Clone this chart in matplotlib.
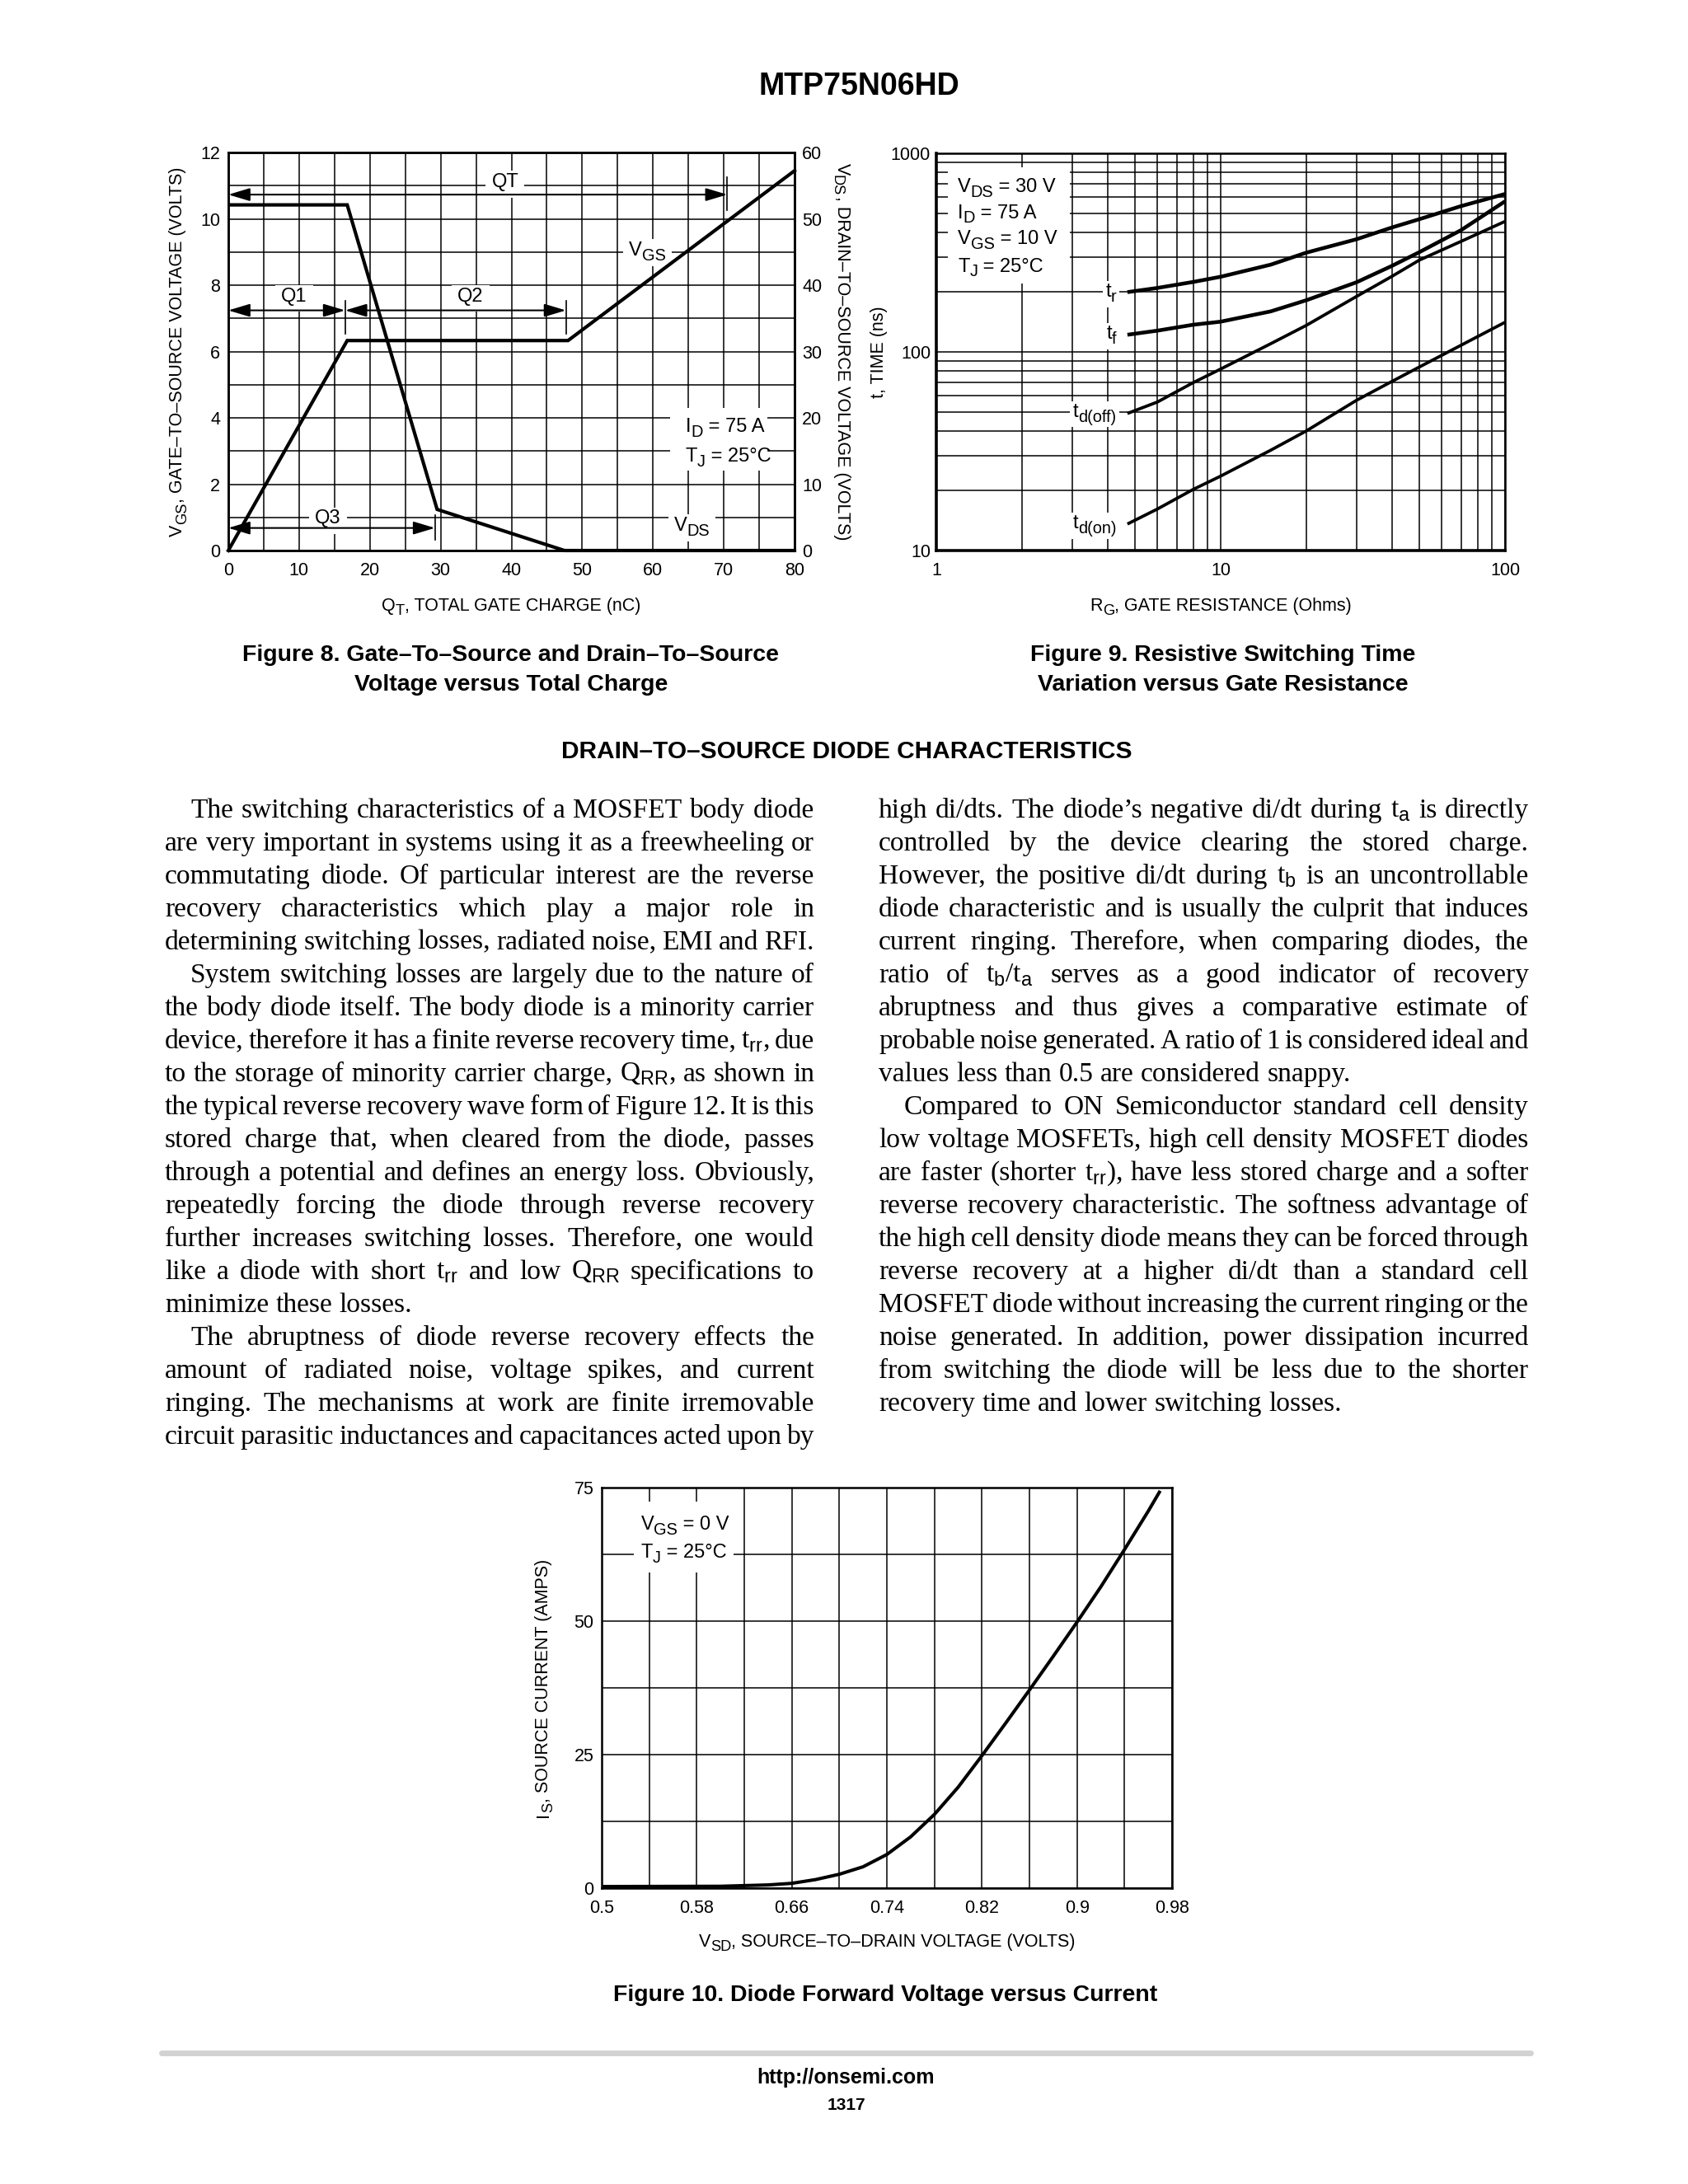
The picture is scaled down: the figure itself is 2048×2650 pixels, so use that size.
import numpy as np
import matplotlib
matplotlib.use("Agg")
import matplotlib.pyplot as plt
from matplotlib import font_manager as fm
from matplotlib.patches import Rectangle
from matplotlib.lines import Line2D
from matplotlib.ticker import NullFormatter
from matplotlib.transforms import IdentityTransform

# ------------------------------------------------------------------ data
# Figure 8 : gate charge
fig8_charge_vgs = [0.0, 16.8, 48.0, 80.0]
fig8_vgs = [0.0, 6.33, 6.33, 11.45]
fig8_charge_vds = [0.4, 16.8, 29.5, 47.5, 80.0]
fig8_vds = [52.1, 52.1, 6.2, 0.0, 0.0]
fig8_interval_names = ["QT", "Q1", "Q2", "Q3"]
fig8_interval_start = [0.0, 0.0, 16.5, 0.0]
fig8_interval_end = [70.5, 16.5, 47.7, 29.2]
fig8_xticks = [0, 10, 20, 30, 40, 50, 60, 70, 80]
fig8_yticks_left = [0, 2, 4, 6, 8, 10, 12]
fig8_yticks_right = [0, 10, 20, 30, 40, 50, 60]

# Figure 9 : switching time vs gate resistance
fig9_rg = [4.7, 6, 8, 10, 15, 20, 30, 40, 50, 70, 100]
fig9_tr = [200, 210, 225, 239, 275, 316, 369, 423, 466, 542, 624]
fig9_tf = [122, 128, 137, 142, 160, 182, 224, 271, 318, 410, 573]
fig9_tdoff = [49, 56, 70, 82, 110, 136, 190, 240, 290, 360, 454]
fig9_tdon = [13.6, 16.2, 20.3, 23.7, 32, 40, 57, 71, 84, 108, 141]
fig9_xticks = [1, 10, 100]
fig9_yticks = [10, 100, 1000]

# Figure 10 : diode forward voltage
fig10_vsd = [0.50, 0.60, 0.64, 0.66, 0.68, 0.70, 0.72, 0.74, 0.76, 0.78,
             0.80, 0.82, 0.84, 0.86, 0.88, 0.90, 0.92, 0.94, 0.96, 0.97]
fig10_is = [0.3, 0.35, 0.6, 0.9, 1.6, 2.6, 4.0, 6.3, 9.6, 13.8,
            18.9, 24.8, 30.9, 37.1, 43.4, 49.8, 56.4, 63.4, 70.6, 74.4]
fig10_xticks = [0.5, 0.58, 0.66, 0.74, 0.82, 0.9, 0.98]
fig10_xticklabels = ["0.5", "0.58", "0.66", "0.74", "0.82", "0.9", "0.98"]
fig10_yticks = [0, 25, 50, 75]

# body text (line by line as printed)
left_paragraphs = [
    (True, True, [
        "The switching characteristics of a MOSFET body diode",
        "are very important in systems using it as a freewheeling or",
        "commutating diode. Of particular interest are the reverse",
        "recovery characteristics which play a major role in",
        "determining switching losses, radiated noise, EMI and RFI."]),
    (True, True, [
        "System switching losses are largely due to the nature of",
        "the body diode itself. The body diode is a minority carrier",
        r"device, therefore it has a finite reverse recovery time, $\mathregular{t}_\mathrm{rr}$, due",
        r"to the storage of minority carrier charge, $\mathregular{Q}_\mathrm{RR}$, as shown in",
        "the typical reverse recovery wave form of Figure 12. It is this",
        "stored charge that, when cleared from the diode, passes",
        "through a potential and defines an energy loss. Obviously,",
        "repeatedly forcing the diode through reverse recovery",
        "further increases switching losses. Therefore, one would",
        r"like a diode with short $\mathregular{t}_\mathrm{rr}$ and low $\mathregular{Q}_\mathrm{RR}$ specifications to",
        "minimize these losses."]),
    (True, False, [
        "The abruptness of diode reverse recovery effects the",
        "amount of radiated noise, voltage spikes, and current",
        "ringing. The mechanisms at work are finite irremovable",
        "circuit parasitic inductances and capacitances acted upon by"]),
]
right_paragraphs = [
    (False, True, [
        r"high di/dts. The diode’s negative di/dt during $\mathregular{t}_\mathrm{a}$ is directly",
        "controlled by the device clearing the stored charge.",
        r"However, the positive di/dt during $\mathregular{t}_\mathrm{b}$ is an uncontrollable",
        "diode characteristic and is usually the culprit that induces",
        "current ringing. Therefore, when comparing diodes, the",
        r"ratio of $\mathregular{t}_\mathrm{b}\mathregular{/t}_\mathrm{a}$ serves as a good indicator of recovery",
        "abruptness and thus gives a comparative estimate of",
        "probable noise generated. A ratio of 1 is considered ideal and",
        "values less than 0.5 are considered snappy."]),
    (True, True, [
        "Compared to ON Semiconductor standard cell density",
        "low voltage MOSFETs, high cell density MOSFET diodes",
        r"are faster (shorter $\mathregular{t}_\mathrm{rr}$), have less stored charge and a softer",
        "reverse recovery characteristic. The softness advantage of",
        "the high cell density diode means they can be forced through",
        "reverse recovery at a higher di/dt than a standard cell",
        "MOSFET diode without increasing the current ringing or the",
        "noise generated. In addition, power dissipation incurred",
        "from switching the diode will be less due to the shorter",
        "recovery time and lower switching losses."]),
]

# ------------------------------------------------------------------ fonts
names = {f.name for f in fm.fontManager.ttflist}


def pick(*cands):
    for c in cands:
        if c in names:
            return c
    return "DejaVu Sans"


SANS = pick("Liberation Sans", "Arial", "DejaVu Sans")
SERIF = pick("Liberation Serif", "Times New Roman", "DejaVu Serif")

plt.rcParams["font.family"] = [SANS, "DejaVu Sans"]
plt.rcParams["mathtext.fontset"] = "custom"
plt.rcParams["mathtext.rm"] = SANS
plt.rcParams["mathtext.it"] = SANS + ":italic"
plt.rcParams["mathtext.bf"] = SANS + ":bold"
plt.rcParams["axes.linewidth"] = 1.8

W, H, DPI = 2048, 2650, 100
fig = plt.figure(figsize=(W / DPI, H / DPI), dpi=DPI)
fig.patch.set_facecolor("white")
renderer = fig.canvas.get_renderer()

TICK_FS = 15.5
LABEL_FS = 15.5
ANN_FS = 17
GRID_LW = 1.1
SUB_SCALE = 0.85


def fy(y):
    return 1 - y / H


def make_axes(l, r, t, b):
    return fig.add_axes([l / W, 1 - b / H, (r - l) / W, (b - t) / H])


def style_axes(ax, xpad=10, ypad=7):
    ax.set_axisbelow(True)
    ax.grid(which="both", color="black", lw=GRID_LW)
    ax.tick_params(which="both", length=0, labelsize=TICK_FS)
    ax.tick_params(axis="x", pad=xpad)
    ax.tick_params(axis="y", pad=ypad)
    for s in ax.spines.values():
        s.set_linewidth(1.8)
        s.set_zorder(5)


_wcache = {}


def adv_width(s, size, family):
    key = (s, round(size, 3), family)
    if key not in _wcache:
        t1 = fig.text(0, 0, s + "x", fontsize=size, fontfamily=family)
        t2 = fig.text(0, 0, "x", fontsize=size, fontfamily=family)
        w = (t1.get_window_extent(renderer=renderer).width
             - t2.get_window_extent(renderer=renderer).width)
        t1.remove()
        t2.remove()
        _wcache[key] = w
    return _wcache[key]


def rich(target, X, Y, parts, size, ha="left", rotation=0, white=None,
         zorder=4, family=None):
    """Draw text made of (string, is_subscript) parts.
    X, Y: display pixel coords of the vertical centre of the capitals at the
    anchor (left / centre / right)."""
    family = family or SANS
    px = size * DPI / 72.0
    th = np.deg2rad(rotation)
    ux, uy = np.cos(th), np.sin(th)
    nx, ny = -np.sin(th), np.cos(th)
    sizes = [size * (SUB_SCALE if sub else 1.0) for _, sub in parts]
    widths = [adv_width(s, sz, family) for (s, _), sz in zip(parts, sizes)]
    total = sum(widths)
    start = {"left": 0.0, "center": -total / 2.0, "right": -total}[ha]
    bx = X - nx * 0.358 * px + ux * start
    by = Y - ny * 0.358 * px + uy * start
    if white is not None and rotation == 0:
        padx, pady = white
        target.add_patch(Rectangle((bx - padx * px, by - 0.42 * px - pady * px),
                                   total + 2 * padx * px, 0.42 * px + 0.72 * px + 2 * pady * px,
                                   transform=IdentityTransform(), fc="white",
                                   ec="none", zorder=zorder - 0.5))
    adv = 0.0
    for (s, sub), sz, w in zip(parts, sizes, widths):
        off = -0.25 * px if sub else 0.0
        xx = bx + ux * adv + nx * off
        yy = by + uy * adv + ny * off
        target.text(xx, yy, s, transform=IdentityTransform(), rotation=rotation,
                    rotation_mode="anchor", ha="left", va="baseline",
                    fontsize=sz, fontfamily=family, zorder=zorder)
        adv += w


def figpix(x, y):
    return x, H - y


# ------------------------------------------------------------------ Figure 8
ax8 = make_axes(277, 964, 185, 668)
ax8.set_xlim(0, 80)
ax8.set_ylim(0, 12)
ax8.set_xticks(fig8_xticks)
ax8.set_xticks(np.arange(0, 81, 5), minor=True)
ax8.set_yticks(fig8_yticks_left)
ax8.set_yticks(np.arange(0, 13, 1), minor=True)
ax8.xaxis.set_minor_formatter(NullFormatter())
ax8.yaxis.set_minor_formatter(NullFormatter())
style_axes(ax8)

ax8r = ax8.twinx()
ax8r.set_ylim(0, 60)
ax8r.set_yticks(fig8_yticks_right)
ax8r.tick_params(length=0, labelsize=TICK_FS, pad=6.5)
for s in ax8r.spines.values():
    s.set_linewidth(1.8)

ax8.plot(fig8_charge_vgs, fig8_vgs, color="black", lw=3.0, zorder=6,
         clip_on=False, solid_joinstyle="miter")
ax8r.plot(fig8_charge_vds, fig8_vds, color="black", lw=3.0, zorder=6,
          clip_on=False, solid_joinstyle="miter")

arrow_y = {"QT": 10.73, "Q1": 7.24, "Q2": 7.24, "Q3": 0.68}
for name, s, e in zip(fig8_interval_names, fig8_interval_start, fig8_interval_end):
    yv = arrow_y[name]
    ax8.annotate("", xy=(e, yv), xytext=(s, yv),
                 arrowprops=dict(arrowstyle="<|-|>,head_length=0.8,head_width=0.24",
                                 mutation_scale=20, lw=1.5, color="black",
                                 shrinkA=0, shrinkB=0), zorder=5)
ax8.plot([70.5, 70.5], [10.26, 11.25], color="black", lw=1.2, zorder=5)
ax8.plot([16.5, 16.5], [6.54, 7.53], color="black", lw=1.2, zorder=5)
ax8.plot([47.7, 47.7], [6.54, 7.53], color="black", lw=1.2, zorder=5)
ax8.plot([29.2, 29.2], [0.33, 1.08], color="black", lw=1.2, zorder=5)

fig.canvas.draw()


def d8(x, y):
    return ax8.transData.transform((x, y))


for txt, (xv, yv) in [("QT", (39.1, 11.17)), ("Q1", (9.3, 7.72)),
                      ("Q2", (34.2, 7.72)), ("Q3", (14.1, 1.02))]:
    X, Y = d8(xv, yv)
    rich(ax8, X, Y, [(txt, False)], ANN_FS, ha="center", white=(0.3, 0.12))
X, Y = d8(59.2, 9.1)
rich(ax8, X, Y, [("V", False), ("GS", True)], ANN_FS, ha="center", white=(0.3, 0.12))
X, Y = d8(65.5, 0.8)
rich(ax8, X, Y, [("V", False), ("DS", True)], ANN_FS, ha="center", white=(0.3, 0.12))
ax8.add_patch(Rectangle((62.4, 2.4), 13.8, 1.9, fc="white", ec="none", zorder=3))
X, Y = d8(64.6, 3.78)
rich(ax8, X, Y, [("I", False), ("D", True), (" = 75 A", False)], ANN_FS)
X, Y = d8(64.6, 2.9)
rich(ax8, X, Y, [("T", False), ("J", True), (" = 25°C", False)], ANN_FS)

X, Y = figpix(620, 733)
rich(fig, X, Y, [("Q", False), ("T", True), (", TOTAL GATE CHARGE (nC)", False)],
     LABEL_FS, ha="center")
X, Y = figpix(213, 426.5)
rich(fig, X, Y, [("V", False), ("GS", True), (", GATE–TO–SOURCE VOLTAGE (VOLTS)", False)],
     LABEL_FS, ha="center", rotation=90)
X, Y = figpix(1024, 426.5)
rich(fig, X, Y, [("V", False), ("DS", True), (", DRAIN–TO–SOURCE VOLTAGE (VOLTS)", False)],
     LABEL_FS, ha="center", rotation=270)

# ------------------------------------------------------------------ Figure 9
ax9 = make_axes(1136, 1826, 186, 668)
ax9.set_xscale("log")
ax9.set_yscale("log")
ax9.set_xlim(1, 100)
ax9.set_ylim(10, 1000)
minor_dec_x = [k * 10 ** d for d in (0, 1) for k in range(2, 10)]
minor_dec_y = [k * 10 ** d for d in (1, 2) for k in range(2, 10)]
ax9.set_xticks(fig9_xticks)
ax9.set_xticklabels([str(v) for v in fig9_xticks])
ax9.set_xticks(minor_dec_x, minor=True)
ax9.set_yticks(fig9_yticks)
ax9.set_yticklabels([str(v) for v in fig9_yticks])
ax9.set_yticks(minor_dec_y, minor=True)
ax9.xaxis.set_minor_formatter(NullFormatter())
ax9.yaxis.set_minor_formatter(NullFormatter())
style_axes(ax9, xpad=10, ypad=5)
ax9.spines["left"].set_linewidth(2.6)
ax9.spines["bottom"].set_linewidth(2.6)
fig.canvas.draw()

ax9.add_patch(Rectangle((1.1, 220), 1.85, 630, fc="white", ec="none", zorder=3))
cond9 = [[("V", False), ("DS", True), (" = 30 V", False)],
         [("I", False), ("D", True), (" = 75 A", False)],
         [("V", False), ("GS", True), (" = 10 V", False)],
         [("T", False), ("J", True), (" = 25°C", False)]]
for parts, yv in zip(cond9, [690, 512, 378, 275]):
    X, Y = ax9.transData.transform((1.19, yv))
    rich(ax9, X, Y, parts, ANN_FS)

for series, lw in ((fig9_tr, 3.3), (fig9_tf, 3.3), (fig9_tdoff, 2.7), (fig9_tdon, 2.7)):
    ax9.plot(fig9_rg, series, color="black", lw=lw, zorder=6, solid_capstyle="butt")

lab9 = [([("t", False), ("r", True)], 205),
        ([("t", False), ("f", True)], 126),
        ([("t", False), ("d(off)", True)], 51),
        ([("t", False), ("d(on)", True)], 14.0)]
for parts, yv in lab9:
    X, Y = ax9.transData.transform((4.3, yv))
    rich(ax9, X, Y, parts, ANN_FS, ha="right", white=(0.15, 0.1))

X, Y = figpix(1481, 733)
rich(fig, X, Y, [("R", False), ("G", True), (", GATE RESISTANCE (Ohms)", False)],
     LABEL_FS, ha="center")
X, Y = figpix(1064, 427)
rich(fig, X, Y, [("t, TIME (ns)", False)], LABEL_FS, ha="center", rotation=90)

# ------------------------------------------------------------------ Figure 10
ax10 = make_axes(730, 1422, 1805, 2291)
ax10.set_xlim(0.5, 0.98)
ax10.set_ylim(0, 75)
ax10.set_xticks(fig10_xticks)
ax10.set_xticklabels(fig10_xticklabels)
ax10.set_xticks(np.linspace(0.5, 0.98, 13), minor=True)
ax10.set_yticks(fig10_yticks)
ax10.set_yticks(np.linspace(0, 75, 7), minor=True)
ax10.xaxis.set_minor_formatter(NullFormatter())
ax10.yaxis.set_minor_formatter(NullFormatter())
style_axes(ax10, xpad=10, ypad=7)
fig.canvas.draw()
ax10.add_patch(Rectangle((0.527, 59.1), 0.084, 13.3, fc="white", ec="none", zorder=3))
X, Y = ax10.transData.transform((0.533, 68.4))
rich(ax10, X, Y, [("V", False), ("GS", True), (" = 0 V", False)], ANN_FS)
X, Y = ax10.transData.transform((0.533, 63.2))
rich(ax10, X, Y, [("T", False), ("J", True), (" = 25°C", False)], ANN_FS)
ax10.plot(fig10_vsd, fig10_is, color="black", lw=2.9, zorder=6, clip_on=False,
          solid_joinstyle="round", solid_capstyle="butt")

X, Y = figpix(1076, 2354)
rich(fig, X, Y, [("V", False), ("SD", True), (", SOURCE–TO–DRAIN VOLTAGE (VOLTS)", False)],
     LABEL_FS, ha="center")
X, Y = figpix(657, 2048)
rich(fig, X, Y, [("I", False), ("S", True), (", SOURCE CURRENT (AMPS)", False)],
     LABEL_FS, ha="center", rotation=90)


# ------------------------------------------------------------------ page texts
def ptext(x, y, s, size, weight="bold", family=None, ha="center"):
    fig.text(x / W, fy(y), s, ha=ha, va="baseline", fontsize=size,
             fontweight=weight, fontfamily=family or SANS)


ptext(1042, 115, "MTP75N06HD", 27)
ptext(620, 801.7, "Figure 8. Gate–To–Source and Drain–To–Source", 20.5)
ptext(620, 838, "Voltage versus Total Charge", 20.5)
ptext(1484, 801.7, "Figure 9. Resistive Switching Time", 20.5)
ptext(1484, 838, "Variation versus Gate Resistance", 20.5)
ptext(1027, 920, "DRAIN–TO–SOURCE DIODE CHARACTERISTICS", 21.5)
ptext(1074, 2428, "Figure 10. Diode Forward Voltage versus Current", 20.5)
ptext(1026, 2528, "http://onsemi.com", 18)
ptext(1027, 2560, "1317", 15)
fig.add_artist(Line2D([196 / W, 1857 / W], [fy(2491), fy(2491)], lw=5,
                      color="#d2d2d2", solid_capstyle="round",
                      transform=fig.transFigure))

# ------------------------------------------------------------------ justified body text
BODY_FS = 24.1
BODY_PX = BODY_FS * DPI / 72.0


def text_width(s, size):
    t = fig.text(0, 0, s, fontsize=size, fontfamily=SERIF)
    w = t.get_window_extent(renderer=renderer).width
    t.remove()
    return w


def layout(paragraphs, x0, x1, base0, pitch, indent_px=31):
    i = 0
    for indent, ends, lines in paragraphs:
        for j, line in enumerate(lines):
            words = line.split(" ")
            size = BODY_FS
            xs = x0 + (indent_px if (indent and j == 0) else 0)
            last = ends and j == len(lines) - 1
            ws = [text_width(w, size) for w in words]
            avail = x1 - xs
            nat = sum(ws) + 0.25 * BODY_PX * (len(words) - 1)
            if (last and nat <= avail) or len(words) == 1:
                gap = 0.25 * BODY_PX
            else:
                gap = (avail - sum(ws)) / (len(words) - 1)
                min_gap = 0.12 * BODY_PX
                if gap < min_gap:
                    scale = (avail - min_gap * (len(words) - 1)) / sum(ws)
                    size = BODY_FS * scale
                    ws = [w * scale for w in ws]
                    gap = min_gap
            y = base0 + pitch * i
            x = xs
            for w, wd in zip(words, ws):
                fig.text(x / W, fy(y), w, ha="left", va="baseline",
                         fontsize=size, fontfamily=SERIF)
                x += wd + gap
            i += 1


layout(left_paragraphs, 200, 988, 991.7, 40.0)
layout(right_paragraphs, 1066, 1855, 991.7, 40.0)

fig.savefig("out.png", dpi=DPI, facecolor="white")
